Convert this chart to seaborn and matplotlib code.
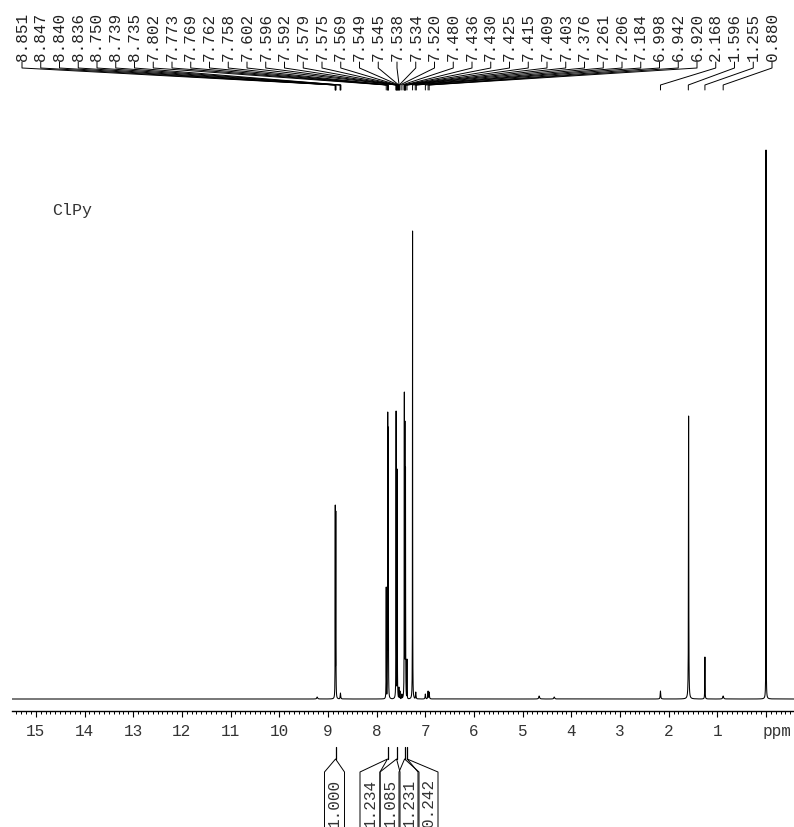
import numpy as np
import pandas as pd
import matplotlib
matplotlib.use("Agg")
import matplotlib.pyplot as plt
import seaborn as sns
from matplotlib.ticker import MultipleLocator, FixedLocator

# ---------------- data ----------------
sample_name = "ClPy"

peak_ppm = [9.22, 8.849, 8.838, 8.742, 7.802, 7.771, 7.760, 7.599, 7.577,
            7.541, 7.520, 7.480, 7.430, 7.418, 7.406, 7.376, 7.261, 7.195,
            6.998, 6.942, 6.920, 4.66, 4.35, 2.168, 1.590, 1.255, 0.880, 0.000]
peak_height = [2, 194, 188, 6, 112, 287, 272, 288, 230,
               12, 8, 5, 307, 278, 232, 40, 468, 7,
               5, 8, 7, 3, 2, 8, 283, 42, 3, 549]
peak_hwhm = [0.01, 0.0025, 0.0025, 0.006, 0.0025, 0.0025, 0.0025, 0.0025, 0.0025,
             0.004, 0.004, 0.006, 0.0025, 0.0025, 0.0025, 0.0025, 0.002, 0.006,
             0.006, 0.006, 0.006, 0.01, 0.01, 0.006, 0.0035, 0.003, 0.01, 0.0018]

label_ppm = [8.851, 8.847, 8.840, 8.836, 8.750, 8.739, 8.735, 7.802, 7.773,
             7.769, 7.762, 7.758, 7.602, 7.596, 7.592, 7.579, 7.575, 7.569,
             7.549, 7.545, 7.538, 7.534, 7.520, 7.480, 7.436, 7.430, 7.425,
             7.415, 7.409, 7.403, 7.376, 7.261, 7.206, 7.184, 6.998, 6.942,
             6.920, 2.168, 1.596, 1.255, 0.880]

integral_ppm = [8.843, 7.775, 7.590, 7.425, 7.372]
integral_value = [1.000, 1.234, 1.085, 1.231, 0.242]

tick_ppm = list(range(0, 16))
tick_labels = [""] + [str(i) for i in range(1, 16)]
unit_label = "ppm"

# ---------------- layout (pixels) ----------------
W, H = 794, 828
FONT = "Liberation Mono"
integral_box_x = [334.5, 370, 390, 409, 428]
box_w = 20

sns.set_theme(style="white")
plt.rcParams["font.family"] = [FONT, "DejaVu Sans"]

fig = plt.figure(figsize=(W / 100, H / 100), dpi=100)
ax = fig.add_axes([12 / W, (H - 712) / H, 782 / W, 612 / H])

x = np.arange(-0.6, 15.55, 0.0005)
comps = np.array([h / (1 + ((x - p) / w) ** 2)
                  for p, h, w in zip(peak_ppm, peak_height, peak_hwhm)])
spec = comps.max(axis=0)
df = pd.DataFrame({"ppm": x, "intensity": spec})
sns.lineplot(data=df, x="ppm", y="intensity", ax=ax, color="black",
             linewidth=0.75, estimator=None, errorbar=None)

ax.set_xlim(15.49, -0.575)
ax.set_ylim(-12, 600)
ax.set_xlabel("")
ax.set_ylabel("")
ax.set_yticks([])
for s in ["top", "left", "right"]:
    ax.spines[s].set_visible(False)
ax.spines["bottom"].set_color("black")
ax.spines["bottom"].set_linewidth(1.0)
ax.xaxis.set_major_locator(FixedLocator(tick_ppm))
ax.set_xticklabels(tick_labels)
ax.xaxis.set_minor_locator(MultipleLocator(0.1))
ax.tick_params(axis="x", which="major", direction="out", length=4.3, width=0.8,
               color="black", labelsize=11.5, labelcolor="#333333", pad=4,
               bottom=True)
ax.tick_params(axis="x", which="minor", direction="out", length=2.2, width=0.7,
               color="black", bottom=True)
for lab in ax.get_xticklabels():
    lab.set_fontfamily(FONT)

# overlay in pixel coordinates
ov = fig.add_axes([0, 0, 1, 1], facecolor="none")
ov.set_xlim(0, W)
ov.set_ylim(H, 0)
ov.axis("off")

def px(p):
    return ax.transData.transform((p, 0))[0]

ov.text(777, 718 + 4 * 100 / 72, unit_label, ha="center", va="top",
        fontsize=11.5, color="#333333", family=FONT)

ov.text(52, 211, sample_name, ha="left", va="center", fontsize=12,
        color="#333333", family=FONT)

# peak labels
lab_x = np.linspace(22, 772, len(label_ppm))
for lx, p in zip(lab_x, label_ppm):
    ov.text(lx, 61, f"{p:.3f}", rotation=90, ha="center", va="bottom",
            fontsize=11.5, color="#222222", family=FONT)
    xp = px(p)
    ov.plot([lx, lx, xp, xp], [63, 69, 86, 91], color="black", lw=0.7)

# integrals
for p, v, bx in zip(integral_ppm, integral_value, integral_box_x):
    xp = px(p)
    l, r = bx - box_w / 2, bx + box_w / 2
    ov.plot([xp, xp], [748, 760], color="black", lw=0.9)
    ov.plot([l, l, xp, r, r], [830, 773, 760, 773, 830], color="black", lw=0.7)
    ov.text(bx, 803, f"{v:.3f}", rotation=90, ha="center", va="center",
            fontsize=11.5, color="#333333", family=FONT)

fig.savefig("out.png", dpi=100)
